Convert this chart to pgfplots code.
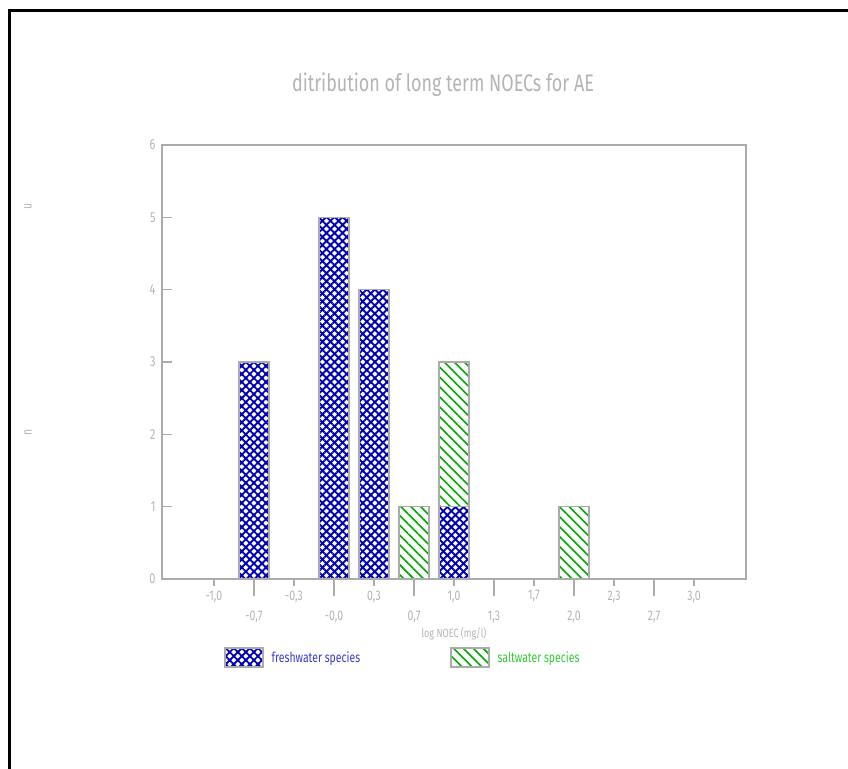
\documentclass[border=0pt]{standalone}
\usepackage{pgfplots}
\pgfplotsset{compat=1.18}
\usepackage{fontspec}
\setmainfont{Fira Sans}[FakeStretch=0.75]
\usetikzlibrary{patterns.meta}
\definecolor{axgray}{HTML}{ABABAB}
\definecolor{txtgray}{HTML}{B4B4B4}
\definecolor{fresh}{HTML}{0000B4}
\definecolor{salt}{HTML}{00AA00}
\definecolor{freshtxt}{HTML}{3A3AD0}
\definecolor{salttxt}{HTML}{33CC33}
\begin{document}
\begin{tikzpicture}
\useasboundingbox (0bp,0bp) rectangle (848bp,-769bp);
\draw[line width=3bp] (848bp,-10.5bp) -- (9.5bp,-10.5bp) -- (9.5bp,-769bp);
\node[txtgray, font=\fontsize{24}{28}\selectfont] at (443bp,-85bp) {ditribution of long term NOECs for AE};
\node[txtgray, rotate=90, font=\fontsize{14}{15}\selectfont] at (28bp,-206bp) {u};
\node[txtgray, rotate=90, font=\fontsize{14}{15}\selectfont] at (28bp,-432bp) {n};
\begin{axis}[
  at={(162bp,-579bp)}, anchor=south west,
  scale only axis, width=584bp, height=434bp,
  xmin=-1.3, xmax=13.3, ymin=0, ymax=6,
  ybar stacked, bar width=30bp,
  axis line style={axgray, line width=1.6bp},
  every tick/.style={axgray, line width=1.6bp},
  ytick={0,1,2,3,4,5,6}, ytick pos=left, ytick align=inside,
  yticklabel style={txtgray, font=\fontsize{14.5}{15}\selectfont, xshift=-3bp},
  /pgf/number format/assume math mode=true,
  xtick={0,2,4,6,8,10,12}, xtick pos=bottom, xtick align=outside,
  xticklabels={-1{,}0,-0{,}3,0{,}3,1{,}0,1{,}7,2{,}3,3{,}0},
  xticklabel style={txtgray, font=\fontsize{14}{15}\selectfont, yshift=-1bp},
  major tick length=7bp,
  y tick style={/pgfplots/major tick length=10bp},
  extra x ticks={1,3,5,7,9,11},
  extra x tick labels={-0{,}7,-0{,}0,0{,}7,1{,}3,2{,}0,2{,}7},
  extra x tick style={major tick length=17bp, xticklabel style={txtgray, font=\fontsize{14}{15}\selectfont, yshift=-10bp}},
  xlabel={log NOEC (mg/l)},
  xlabel style={at={(axis description cs:0.5,-0.126)}, anchor=center, txtgray, font=\fontsize{12}{13}\selectfont},
  legend columns=2,
  legend style={at={(0.1062,-0.1809)}, anchor=west, draw=none, fill=none, inner sep=0pt,
    nodes={inner sep=0pt, anchor=west},
    /tikz/every odd column/.append style={column sep=8bp},
    /tikz/every even column/.append style={column sep=90bp},
    font=\fontsize{14}{15}\selectfont},
  legend image code/.code={\draw[#1, draw=axgray, line width=1.5bp] (0bp,-9.5bp) rectangle (38bp,9.5bp);},
  clip=false,
]
\addplot[draw=axgray, line width=1.5bp, pattern={Hatch[angle=45,distance=5.7bp,line width=1.9bp]}, pattern color=fresh]
  coordinates {(0,0)(1,3)(2,0)(3,5)(4,4)(5,0)(6,1)(7,0)(8,0)(9,0)(10,0)(11,0)(12,0)};
\addlegendentry{\textcolor{freshtxt}{freshwater species}}
\addplot[draw=axgray, line width=1.5bp, pattern={Lines[angle=-45,distance=7bp,line width=1.6bp]}, pattern color=salt]
  coordinates {(0,0)(1,0)(2,0)(3,0)(4,0)(5,1)(6,2)(7,0)(8,0)(9,1)(10,0)(11,0)(12,0)};
\addlegendentry{\textcolor{salttxt}{saltwater species}}
\end{axis}
\end{tikzpicture}
\end{document}
